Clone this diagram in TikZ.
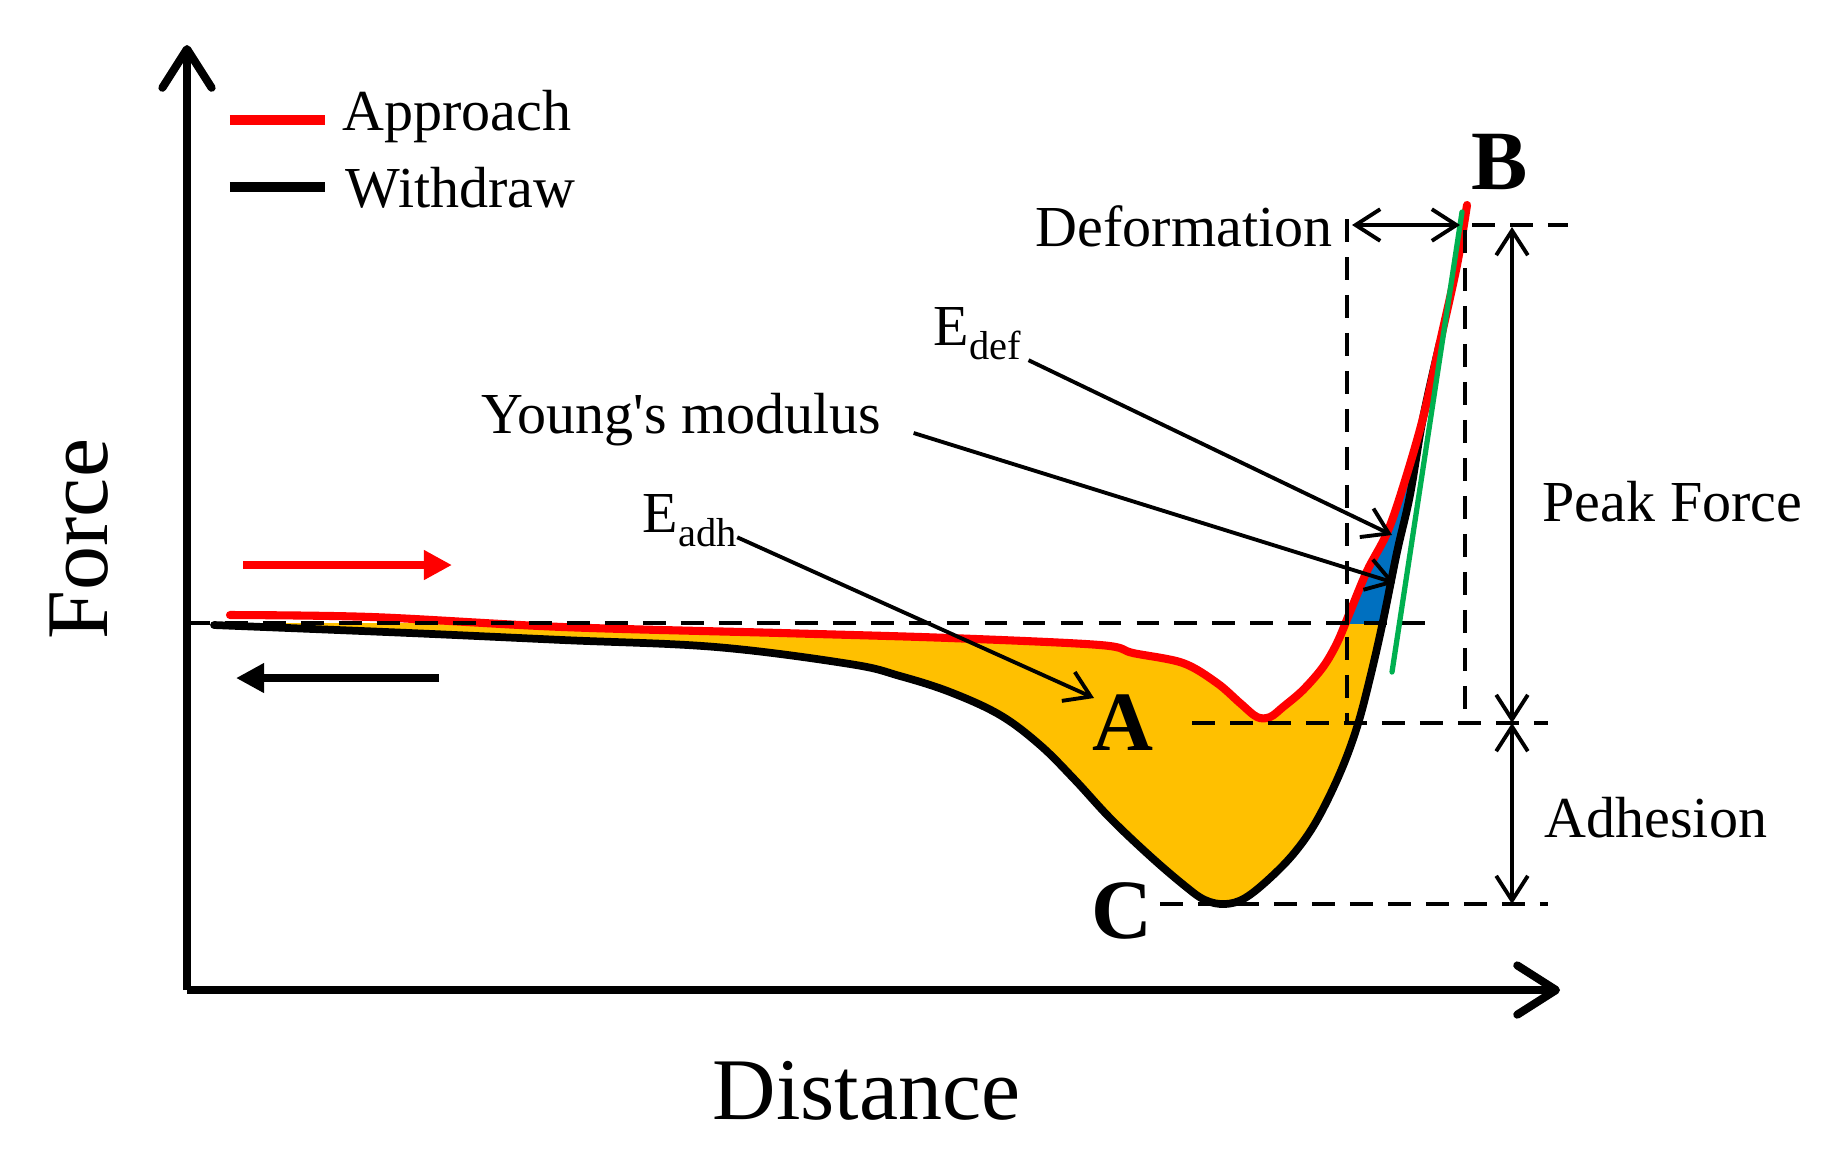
\documentclass[tikz,border=0pt]{standalone}
\usepackage{fontspec}
\setmainfont{Liberation Serif}
\usetikzlibrary{arrows.meta}
\definecolor{adhyellow}{HTML}{FFC000}
\definecolor{defblue}{HTML}{0070C0}
\definecolor{tangreen}{HTML}{00B050}
\newcommand{\Esub}[1]{E\raisebox{-4pt}{\fontsize{11.5}{13}\selectfont #1}}
\tikzset{
      axisline/.style={draw=black, line width=2.3pt, -{Straight Barb[length=11pt,width=14pt,round]}},
      approach/.style={draw=red, line width=2.3pt, line join=round, line cap=round},
      withdraw/.style={draw=black, line width=2.2pt, line join=round, line cap=round},
      guide/.style={draw=black, line width=1.4pt, dash pattern=on 6.5pt off 4.3pt},
      span/.style={draw=black, line width=1.1pt,
            {Straight Barb[length=7pt,width=9pt]}-{Straight Barb[length=7pt,width=9pt]}},
      pointer/.style={draw=black, line width=1.1pt, -{Straight Barb[length=7pt,width=9pt]}},
      dirarrow/.style={line width=2.2pt, -{Triangle[length=8pt,width=8pt]}},
      tanline/.style={draw=tangreen, line width=1.5pt, line cap=round},
      lbl/.style={font=\fontsize{16.5}{20}\selectfont, inner sep=0pt},
      axislbl/.style={font=\fontsize{25}{30}\selectfont, inner sep=0pt},
      ptlbl/.style={font=\fontsize{24}{28}\selectfont\bfseries, inner sep=0pt},
}

\begin{document}
\begin{tikzpicture}[x=0.01cm, y=-0.01cm]
        \useasboundingbox (0,0) rectangle (1822,1153);

        % axes
        \coordinate (O) at (187,990) ;
        \coordinate (ytip) at (187,45) ;
        \coordinate (xtip) at (1560,990) ;
        \draw[axisline] (O) -- (ytip) ;
        \draw[axisline] (O) -- (xtip) ;
        \node[axislbl, rotate=90, anchor=base] (force) at (107,539) {Force} ;
        \node[axislbl, anchor=base west] (dist) at (712,1119) {Distance} ;

        % legend
        \node[lbl, anchor=base west] (appr) at (342,130) {Approach} ;
        \node[lbl, anchor=base west] (withd) at (345,207) {Withdraw} ;
        \draw[approach, line width=2.8pt, line cap=butt] ([xshift=-1.12cm,yshift=-1pt]appr.west) -- ([xshift=-0.17cm,yshift=-1pt]appr.west) ;
        \draw[withdraw, line width=2.8pt, line cap=butt] ([xshift=-1.15cm]withd.west) -- ([xshift=-0.2cm]withd.west) ;

        % direction arrows
        \coordinate (r0) at (243,565) ;
        \coordinate (r1) at (452,565) ;
        \coordinate (k0) at (439,678) ;
        \coordinate (k1) at (236,678) ;
        \draw[dirarrow, red] (r0) -- (r1) ;
        \draw[dirarrow, black] (k0) -- (k1) ;

        % area between the curves
        \begin{scope}
            \clip (187,623) rectangle (1560,990) ;
            \fill[adhyellow] plot[smooth, tension=.55] coordinates {(230,615) (372,617) (563,627) (781,633) (950,638) (1100,645) (1133,653) (1183,663) (1217,683) (1240,703) (1257,717) (1270,717) (1283,707) (1303,690) (1323,667) (1337,643) (1350,612) (1367,571) (1387,533) (1403,487) (1423,418)}
                -- plot[smooth, tension=.6] coordinates {(1423,418) (1410,495) (1397,552) (1383,621) (1370,678) (1357,727) (1340,773) (1317,820) (1295,852) (1270,878) (1245,898) (1225,904) (1205,900) (1185,886) (1150,856) (1110,818) (1075,780) (1040,745) (1000,715) (950,692) (900,676) (850,664) (716,647) (563,640) (410,633) (214,625)} -- cycle ;
        \end{scope}
        \begin{scope}
            \clip (1300,200) rectangle (1560,623) ;
            \fill[defblue] plot[smooth, tension=.55] coordinates {(1323,667) (1337,643) (1350,612) (1367,571) (1387,533) (1403,487) (1423,418)}
                -- plot[smooth, tension=.55] coordinates {(1423,418) (1410,495) (1397,552) (1383,621) (1370,678)} -- cycle ;
        \end{scope}

        % withdraw and approach curves
        \draw[withdraw] plot[smooth, tension=.6] coordinates {(214,625) (410,633) (563,640) (716,647) (850,664) (900,676) (950,692) (1000,715) (1040,745) (1075,780) (1110,818) (1150,856) (1185,886) (1205,900) (1225,904) (1245,898) (1270,878) (1295,852) (1317,820) (1340,773) (1357,727) (1370,678) (1383,621) (1397,552) (1410,495) (1423,418) (1440,342)} ;
        \draw[approach] plot[smooth, tension=.55] coordinates {(230,615) (372,617) (563,627) (781,633) (950,638) (1100,645) (1133,653) (1183,663) (1217,683) (1240,703) (1257,717) (1270,717) (1283,707) (1303,690) (1323,667) (1337,643) (1350,612) (1367,571) (1387,533) (1403,487) (1423,418) (1440,342) (1457,265) (1467,205)} ;

        % guide lines
        \coordinate (b0) at (187,623) ;
        \coordinate (b1) at (1437,623) ;
        \coordinate (a0) at (1192,723) ;
        \coordinate (a1) at (1548,723) ;
        \coordinate (c0) at (1160,904) ;
        \coordinate (c1) at (1548,904) ;
        \coordinate (t0) at (1472,225) ;
        \coordinate (t1) at (1568,225) ;
        \coordinate (vl0) at (1347,219) ;
        \coordinate (vl1) at (1347,723) ;
        \coordinate (vr0) at (1465,230) ;
        \coordinate (vr1) at (1465,723) ;
        \draw[guide] (b0) -- (b1) ;
        \draw[guide] (a0) -- (a1) ;
        \draw[guide] (c0) -- (c1) ;
        \draw[guide] (t0) -- (t1) ;
        \draw[guide] (vl0) -- (vl1) ;
        \draw[guide] (vr0) -- (vr1) ;

        % tangent
        \coordinate (g0) at (1392,672) ;
        \coordinate (g1) at (1462,212) ;
        \draw[tanline] (g0) -- (g1) ;

        % spans
        \coordinate (d0) at (1352,225) ;
        \coordinate (d1) at (1460,225) ;
        \coordinate (pk0) at (1512,227) ;
        \coordinate (pk1) at (1512,723) ;
        \coordinate (ad1) at (1512,904) ;
        \draw[span] (d0) -- (d1) ;
        \draw[span] (pk0) -- (pk1) ;
        \draw[span] (pk1) -- (ad1) ;
        \node[lbl, anchor=base east] (deform) at (1333,246) {Deformation} ;
        \node[lbl, anchor=base west] (peak) at (1542,521) {Peak Force} ;
        \node[lbl, anchor=base west] (adh) at (1544,837) {Adhesion} ;

        % points
        \node[ptlbl, anchor=base] (B) at (1500,189) {B} ;
        \node[ptlbl, anchor=base] (A) at (1123,750) {A} ;
        \node[ptlbl, anchor=base] (C) at (1122,938) {C} ;

        % pointers
        \node[lbl, anchor=base west] (edef) at (933,345) {\Esub{def}} ;
        \node[lbl, anchor=base west] (young) at (481,433) {Young\textquotesingle s modulus} ;
        \node[lbl, anchor=base west] (eadh) at (642,532) {\Esub{adh}} ;
        \coordinate (tipdef) at (1392,535) ;
        \coordinate (tipym) at (1395,583) ;
        \coordinate (tipadh) at (1094,698) ;
        \draw[pointer] ([xshift=2pt]edef.south east) -- (tipdef) ;
        \draw[pointer] ([xshift=9pt]young.base east) -- (tipym) ;
        \draw[pointer] ([yshift=-1.5pt]eadh.base east) -- (tipadh) ;

\end{tikzpicture}
\end{document}
